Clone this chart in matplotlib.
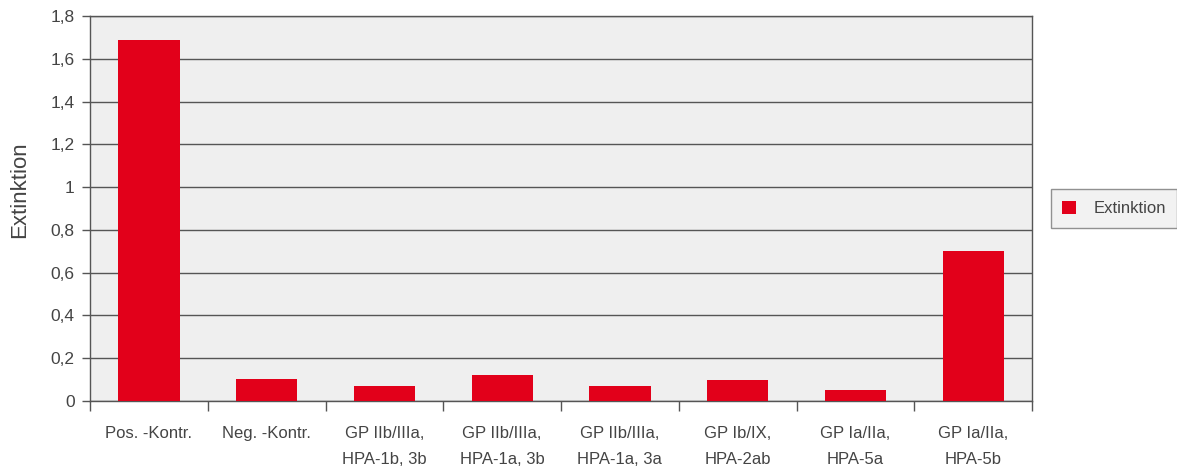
import matplotlib.pyplot as plt
import numpy as np

# Daten
kategorien = ["Pos. -Kontr.", "Neg. -Kontr.", "GP IIb/IIIa,\nHPA-1b, 3b", "GP IIb/IIIa,\nHPA-1a, 3b",
              "GP IIb/IIIa,\nHPA-1a, 3a", "GP Ib/IX,\nHPA-2ab", "GP Ia/IIa,\nHPA-5a", "GP Ia/IIa,\nHPA-5b"]
extinktion = [1.69, 0.105, 0.07, 0.12, 0.07, 0.098, 0.051, 0.70]
y_ticks = [0, 0.2, 0.4, 0.6, 0.8, 1.0, 1.2, 1.4, 1.6, 1.8]
y_labels = ["0", "0,2", "0,4", "0,6", "0,8", "1", "1,2", "1,4", "1,6", "1,8"]

plt.rcParams["font.family"] = ["Liberation Sans Narrow", "Liberation Sans", "DejaVu Sans"]
txt = "#444444"
rot = "#e2001a"

fig = plt.figure(figsize=(11.77, 4.70), dpi=100)
ax = fig.add_axes([0.0765, 0.1468, 0.8003, 0.8192])
ax.set_facecolor("#efefef")

x = np.arange(len(kategorien))
ax.bar(x, extinktion, width=0.52, color=rot, label="Extinktion", zorder=3)

ax.set_xlim(-0.5, len(kategorien) - 0.5)
ax.set_ylim(0, 1.8)
ax.set_yticks(y_ticks)
ax.set_yticklabels(y_labels)
ax.yaxis.grid(True, color="#555555", linewidth=1, zorder=0)

ax.set_xticks(x)
ax.set_xticklabels(kategorien, linespacing=1.95, va="top")
ax.set_xticks(np.arange(-0.5, len(kategorien)), minor=True)
ax.tick_params(axis="x", which="major", length=0, pad=18, labelsize=12, labelcolor=txt)
ax.tick_params(axis="x", which="minor", length=7, width=1, color="#555555")
ax.tick_params(axis="y", length=6, width=1, color="#555555", pad=5, labelsize=12.5, labelcolor=txt)

for s in ax.spines.values():
    s.set_color("#555555")
    s.set_linewidth(1)

ax.set_ylabel("Extinktion", fontsize=16, color=txt)
ax.yaxis.set_label_coords(-0.064, 0.55)

leg = ax.legend(loc="center left", bbox_to_anchor=(1.02, 0.5), frameon=True, fancybox=False,
                fontsize=12, handlelength=0.8, handleheight=0.8, borderpad=0.7,
                handletextpad=1.05, borderaxespad=0)
leg.get_frame().set_facecolor("#efefef")
leg.get_frame().set_edgecolor("#777777")
for t in leg.get_texts():
    t.set_color(txt)

plt.savefig("out.png", dpi=100)
